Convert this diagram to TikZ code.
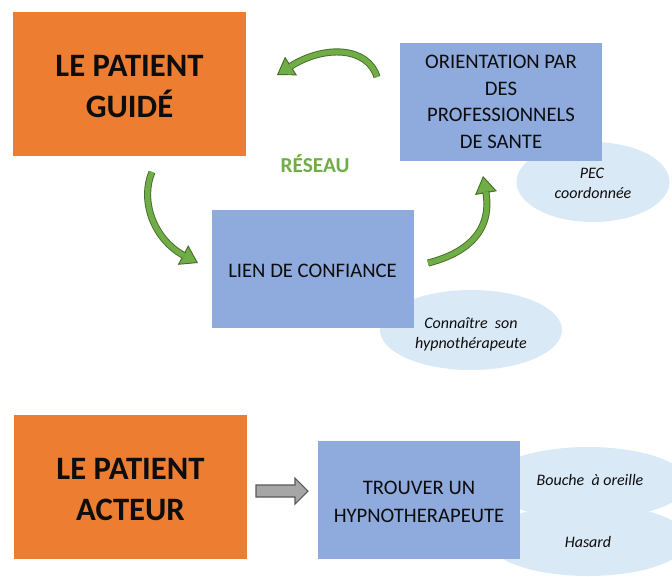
\documentclass[tikz,border=0pt]{standalone}
\usepackage{fontspec}
\setmainfont{Carlito}
\usetikzlibrary{arrows.meta,shapes.geometric,calc}
\definecolor{orng}{HTML}{ED7D31}
\definecolor{bluebox}{HTML}{8FAADC}
\definecolor{lblue}{HTML}{DAE9F6}
\definecolor{ggreen}{HTML}{70AD47}
\definecolor{gdark}{HTML}{466E2B}
\definecolor{gfill}{HTML}{A6A6A6}
\definecolor{gline}{HTML}{595959}
\definecolor{txt}{HTML}{0D0D0D}
\begin{document}
\begin{tikzpicture}[x=0.75pt,y=-0.75pt,
  obox/.style={fill=orng, minimum width=233*0.75pt, minimum height=144*0.75pt, inner sep=0pt},
  otext/.style={inner sep=0pt, align=center, text=txt, font=\fontsize{24.5}{30.75}\selectfont\bfseries},
  bbox/.style={fill=bluebox, minimum width=202*0.75pt, minimum height=118*0.75pt, inner sep=0pt},
  btext/.style={inner sep=0pt, align=center, text=txt, font=\fontsize{15.5}{20}\selectfont},
  ell/.style={ellipse, fill=lblue, inner sep=0pt},
  itext/.style={font=\fontsize{12}{15}\selectfont\itshape, inner sep=0pt, anchor=base, text=txt},
  band/.style={draw=gdark, line width=0.7pt, double=ggreen, double distance=3.9pt, shorten >=-1pt},
  headtip/.style={draw=gdark, line width=0.7pt, -{Triangle[length=#1, width=16.5pt, fill=ggreen]}},
  garrow/.style={fill=gfill, draw=gline, line width=0.8pt}
]
\useasboundingbox (0,0) rectangle (672,576);

% ellipses (behind boxes)
\node[ell, minimum width=153*0.75pt, minimum height=80*0.75pt] (pecell) at (593,182) {};
\node[ell, minimum width=182*0.75pt, minimum height=80*0.75pt] (conell) at (471,330) {};
\node[ell, minimum width=200*0.75pt, minimum height=72*0.75pt] (bouell) at (588,483) {};
\node[ell, minimum width=200*0.75pt, minimum height=72*0.75pt] (hasell) at (588,540) {};

% boxes
\node[obox] (guide) at (129.5,84) {};
\node[otext] (guidetxt) at (129.5,87) {LE PATIENT\\GUIDÉ};
\node[bbox] (orient) at (501,101.5) {};
\node[btext] (orienttxt) at (501,102) {ORIENTATION PAR\\DES\\PROFESSIONNELS\\DE SANTE};
\node[bbox] (lien) at (312.5,269) {};
\node[btext] (lientxt) at (312.5,270.5) {LIEN DE CONFIANCE};
\node[obox] (acteur) at (130.5,487) {};
\node[otext] (acteurtxt) at (130.5,490) {LE PATIENT\\ACTEUR};
\node[bbox] (trouver) at (419,499.5) {};
\node[btext, font=\fontsize{15.5}{20.5}\selectfont] (trouvertxt) at (419,502) {TROUVER UN\\HYPNOTHERAPEUTE};

% centre label
\node[font=\fontsize{16}{19}\selectfont\bfseries, text=ggreen, anchor=base, inner sep=0pt] (reseau) at (315,172) {RÉSEAU};

% ellipse texts
\node[itext] (pec1) at (592,178) {PEC};
\node[itext] (pec2) at (593,198) {coordonnée};
\node[itext] (con1) at (471,328) {Connaître\ \ son};
\node[itext] (con2) at (471,348) {hypnothérapeute};
\node[itext] (bou) at (590,485) {Bouche \ à oreille};
\node[itext] (has) at (588,547) {Hasard};

% curved green arrows
% arrow 1 : orientation -> guide
\coordinate (a1s) at (377,77);
\coordinate (a1c) at (368,47);
\coordinate (a1b) at (291,66);
\coordinate (a1t) at (277,75);
\draw[headtip=12.5pt] (a1b) -- (a1t);
\draw[band] (a1s) .. controls (a1c) and ($(a1b)!-2.4!(a1t)$) .. (a1b);

% arrow 2 : guide -> lien
\coordinate (a2s) at (152,172);
\coordinate (a2c) at (140,200);
\coordinate (a2b) at (183,255);
\coordinate (a2t) at (198,263);
\draw[headtip=12.75pt] (a2b) -- (a2t);
\draw[band] (a2s) .. controls (a2c) and ($(a2b)!-2!(a2t)$) .. (a2b);

% arrow 3 : lien -> orientation
\coordinate (a3s) at (428,263);
\coordinate (a3c) at (460,255);
\coordinate (a3b) at (486,193);
\coordinate (a3t) at (483,176);
\draw[headtip=13pt] (a3b) -- (a3t);
\draw[band] (a3s) .. controls (a3c) and ($(a3b)!-2.5!(a3t)$) .. (a3b);

% grey block arrow : acteur -> trouver
\coordinate (ga) at (256,491);
\coordinate (gb) at (308,491);
\draw[garrow] ($(ga)+(0,-6)$) -- ($(gb)+(-13,-6)$) -- ($(gb)+(-13,-13)$) -- (gb)
  -- ($(gb)+(-13,13)$) -- ($(gb)+(-13,6)$) -- ($(ga)+(0,6)$) -- cycle;
\end{tikzpicture}
\end{document}
